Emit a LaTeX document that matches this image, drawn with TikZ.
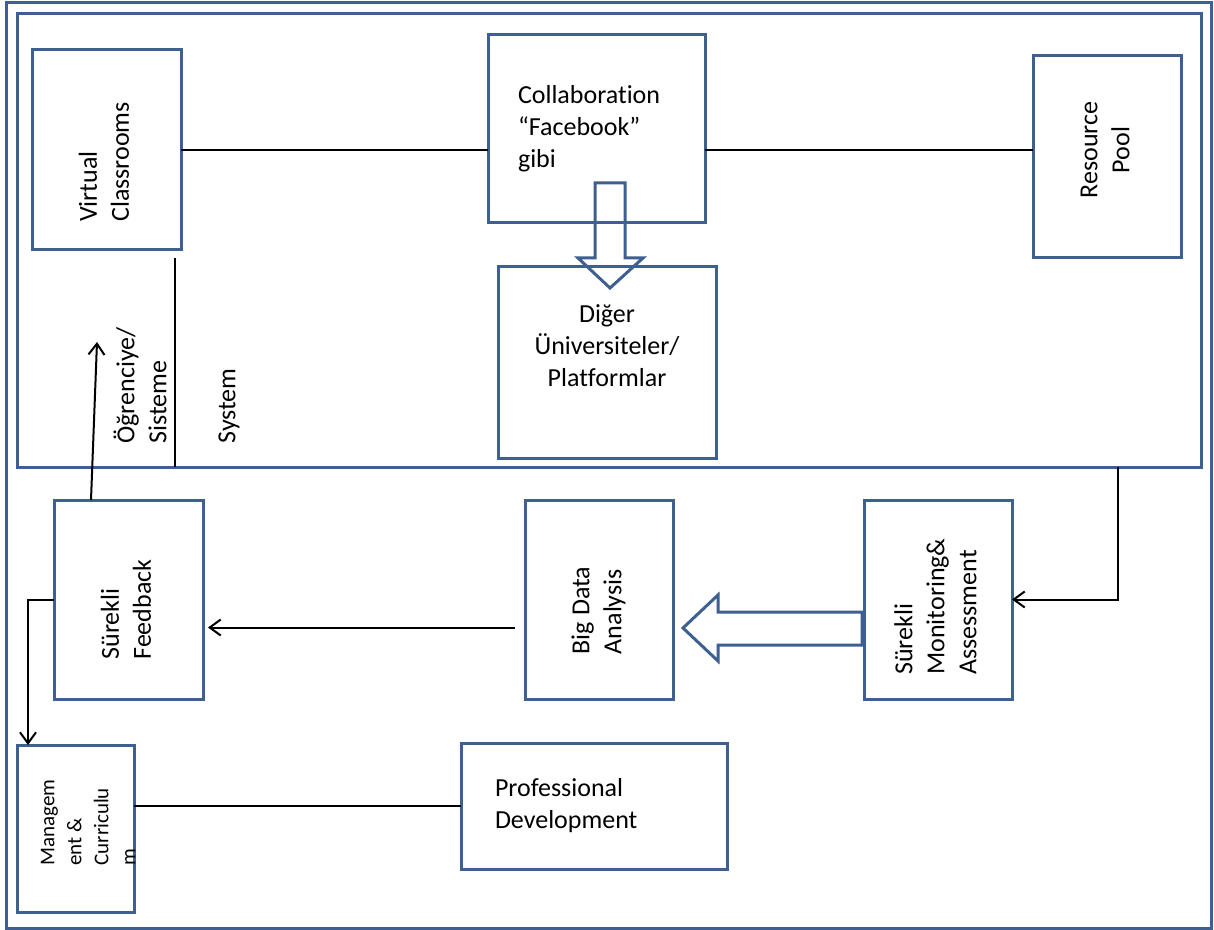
\documentclass[tikz,border=0pt]{standalone}
\usepackage{fontspec}
\setmainfont{Carlito}[Ligatures=NoCommon]
\usepackage{graphicx}
\usetikzlibrary{arrows.meta}

\definecolor{boxblue}{HTML}{3E6090}
% rotated text block, optional shift along the box
\newcommand{\vtext}[3][0pt]{\rotatebox{90}{\begin{tabular}{@{}#2@{}}#3\end{tabular}\hspace*{#1}}}

\begin{document}
\begin{tikzpicture}
		[x=0.5pt,y=-0.5pt,
		 font=\fontsize{13}{16}\selectfont,
		 box/.style={draw=boxblue,line width=1.5pt,outer sep=0pt,inner sep=0pt},
		 outerbox/.style={draw=boxblue,line width=1.5pt,outer sep=0pt,inner sep=0pt},
		 conn/.style={line width=1pt},
		 arr/.style={line width=1pt,-{Straight Barb[length=5.5pt,width=8pt]}},
		 bigarrow/.style={draw=boxblue,line width=1.5pt,line join=miter}]
		\useasboundingbox (0,0) rectangle (1214,930);

		\node[outerbox,minimum width=602.5pt,minimum height=462.5pt] (page) at (608.5,465.5) {};
		\node[outerbox,minimum width=592pt,minimum height=226.5pt] (sys) at (609,240.5) {};

		\node[box,minimum width=74.5pt,minimum height=100pt] (vc) at (106.5,150) {\vtext[12pt]{l}{Virtual\\Classrooms}};
		\node[box,minimum width=108.5pt,minimum height=94pt,text width=78.5pt,align=left] (collab) at (596.5,129) {Collaboration\\“Facebook”\\gibi};
		\node[box,minimum width=74pt,minimum height=101pt] (pool) at (1107,157) {\vtext[-7pt]{c}{Resource\\Pool}};
		\node[box,minimum width=109pt,minimum height=95.5pt,align=center,text depth=17pt] (diger) at (607,362.5) {Diğer\\Üniversiteler/\\Platformlar};

		\node[rotate=90,anchor=west,align=left,inner sep=0pt] (ogr) at (140,444) {Öğrenciye/\\Sisteme};
		\node[rotate=90,anchor=west,inner sep=0pt] (systxt) at (229,444) {System};

		\node[box,minimum width=74.5pt,minimum height=99.5pt] (fb) at (128.5,599.5) {\vtext[10pt]{l}{Sürekli\\Feedback}};
		\node[box,minimum width=74pt,minimum height=99.5pt] (bda) at (599,599.5) {\vtext[11pt]{l}{Big Data\\Analysis}};
		\node[box,minimum width=74pt,minimum height=99.5pt] (mon) at (938,599.5) {\vtext[7pt]{l}{Sürekli\\Monitoring\&\\Assessment}};

		\node[box,minimum width=58.5pt,minimum height=83.5pt,font=\fontsize{10.5}{13.5}\selectfont] (mgmt) at (75.5,828.5) {\makebox[0pt]{\hspace*{14pt}\vtext[-6pt]{l}{Managem\\ent \&\\Curriculu\\m}}};
		\node[box,minimum width=133pt,minimum height=63pt,text width=99pt,align=left] (prof) at (594,806) {Professional\\Development};

		\coordinate (vcfoot) at ([xshift=-3pt,yshift=-4pt]vc.south east);
		\coordinate (ogrtip) at (97,342);

		\draw[conn] (vc.east) -- (vc.east -| collab.west);
		\draw[conn] (collab.east |- vc.east) -- (pool.west |- vc.east);
		\draw[conn] (vcfoot) -- (vcfoot |- sys.south);
		\draw[arr] ([xshift=-18.75pt]fb.north) -- (ogrtip);
		\draw[arr] ([xshift=-41.5pt]sys.south east) |- (mon.east);
		\draw[arr] ([xshift=-5pt,yshift=-14pt]bda.west) -- ([xshift=2.5pt,yshift=-14pt]fb.east);
		\draw[arr] (fb.west) -| ([xshift=5.5pt]mgmt.north west);
		\draw[conn] (mgmt.east |- prof.west) -- (prof.west);

		\draw[bigarrow] (595,183) -- (625,183) -- (625,258) -- (643,258) -- (610,288) -- (578,258) -- (595,258) -- cycle;
		\draw[bigarrow] (862,612) -- (718,612) -- (718,595) -- (683,628) -- (718,661) -- (718,645) -- (862,645) -- cycle;

	\end{tikzpicture}
\end{document}
